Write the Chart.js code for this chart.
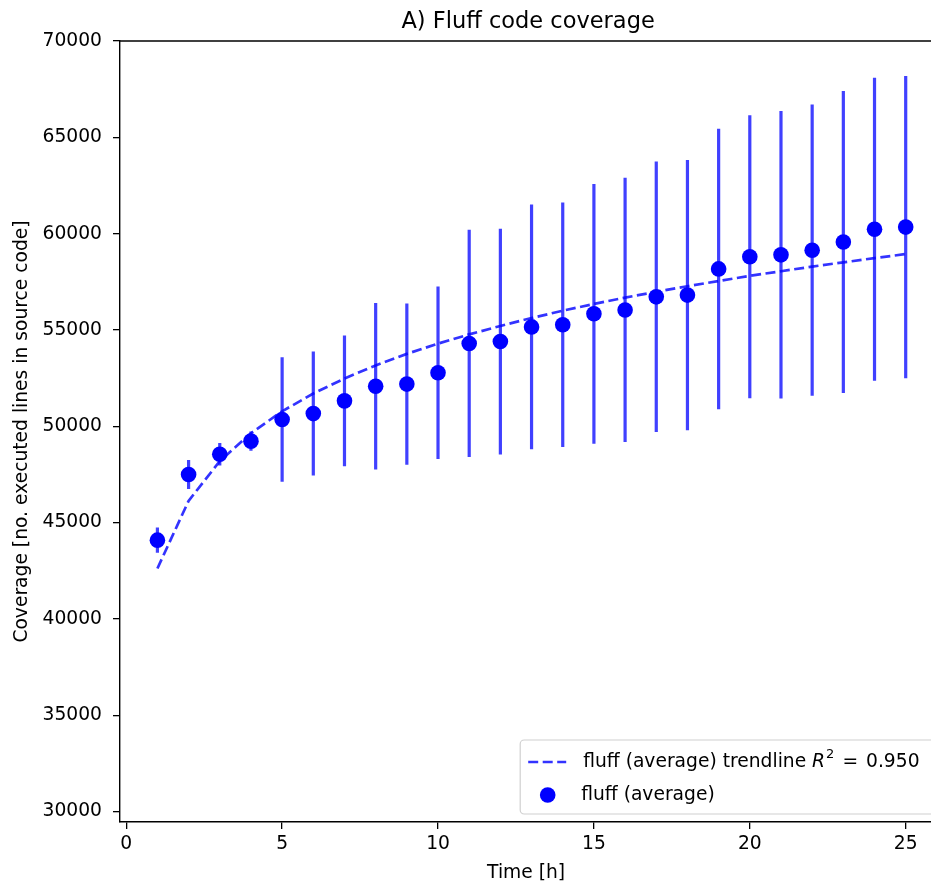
<!DOCTYPE html>
<html>
<head>
  <title>A) Fluff code coverage</title>
  <style>
    html, body {
      margin: 0;
      padding: 0;
      background: #fff;
      overflow: hidden;
      width: 931px;
      height: 886px;
    }
  </style>
</head>
<body>
  <!-- a little wider than the window: the reference crops off the right spine -->
  <canvas id="chart" width="940" height="886"></canvas>

  <script src="https://cdn.jsdelivr.net/npm/chart.js"></script>
  <script>
    // data
    const hours = [1, 2, 3, 4, 5, 6, 7, 8, 9, 10, 11, 12, 13, 14, 15, 16, 17, 18, 19, 20, 21, 22, 23, 24, 25];
    const avgCoverage = [44090, 47500, 48550, 49230, 50350, 50660, 51320, 52080, 52190, 52780,
                         54300, 54400, 55160, 55270, 55840, 56040, 56720, 56810, 58170, 58800,
                         58900, 59140, 59570, 60230, 60340];
    const errCoverage = [660, 750, 580, 500, 3230, 3220, 3390, 4320, 4190, 4480,
                         5900, 5860, 6350, 6350, 6740, 6860, 7020, 7010, 7280, 7350,
                         7460, 7560, 7840, 7860, 7840];
    const trendCoverage = [42620, 46130, 48190, 49640, 50780, 51700, 52480, 53160, 53760, 54290,
                           54770, 55210, 55620, 56000, 56350, 56680, 56980, 57270, 57540, 57810,
                           58050, 58290, 58510, 58730, 58940];
    const xTicks = [0, 5, 10, 15, 20, 25];
    const yTicks = [30000, 35000, 40000, 45000, 50000, 55000, 60000, 65000, 70000];

    const titleText = 'A) Fluff code coverage';
    const trendLabel = 'fluff (average) trendline';
    const r2Text = '0.950';
    const avgLabel = 'fluff (average)';

    const FONT = '"DejaVu Sans", sans-serif';
    const FS = 18.7;
    const BLUE = '#0000ff';
    const BAR_BLUE = 'rgba(0, 0, 255, 0.75)';
    const LINE_BLUE = 'rgba(0, 0, 255, 0.8)';

    // vertical error bars under the markers
    const errorBars = {
      id: 'errorBars',
      beforeDatasetsDraw(chart) {
        const { ctx, chartArea, scales } = chart;
        ctx.save();
        ctx.beginPath();
        ctx.rect(chartArea.left, chartArea.top, chartArea.right - chartArea.left, chartArea.bottom - chartArea.top);
        ctx.clip();
        ctx.strokeStyle = BAR_BLUE;
        ctx.lineWidth = 3.2;
        hours.forEach((h, i) => {
          const x = scales.x.getPixelForValue(h);
          ctx.beginPath();
          ctx.moveTo(x, scales.y.getPixelForValue(avgCoverage[i] + errCoverage[i]));
          ctx.lineTo(x, scales.y.getPixelForValue(avgCoverage[i] - errCoverage[i]));
          ctx.stroke();
        });
        ctx.restore();
      }
    };

    // title, top spine and matplotlib-like legend
    const decorations = {
      id: 'decorations',
      afterDraw(chart) {
        const { ctx, chartArea } = chart;
        ctx.save();

        ctx.strokeStyle = '#000';
        ctx.lineWidth = 1.4;
        ctx.beginPath();
        ctx.moveTo(chartArea.left, chartArea.top);
        ctx.lineTo(chartArea.right + 20, chartArea.top);
        ctx.stroke();

        ctx.fillStyle = '#000';
        ctx.font = '22.5px ' + FONT;
        ctx.textAlign = 'center';
        ctx.textBaseline = 'alphabetic';
        ctx.fillText(titleText, (chartArea.left + chartArea.right) / 2 + 2, 27.5);

        // legend box in lower right
        const bx = chartArea.right - 412;
        const by = chartArea.bottom - 82;
        const bw = 430;
        const bh = 74;
        ctx.fillStyle = 'rgba(255, 255, 255, 0.8)';
        ctx.strokeStyle = '#d0d0d0';
        ctx.lineWidth = 1.2;
        ctx.beginPath();
        ctx.roundRect(bx, by, bw, bh, 4);
        ctx.fill();
        ctx.stroke();

        const row1 = by + 22;
        const row2 = by + 55;

        ctx.strokeStyle = LINE_BLUE;
        ctx.lineWidth = 2.7;
        ctx.setLineDash([10, 4.5]);
        ctx.beginPath();
        ctx.moveTo(bx + 8, row1);
        ctx.lineTo(bx + 46, row1);
        ctx.stroke();
        ctx.setLineDash([]);

        ctx.fillStyle = BLUE;
        ctx.beginPath();
        ctx.arc(bx + 27.5, row2, 7.8, 0, Math.PI * 2);
        ctx.fill();

        ctx.fillStyle = '#000';
        ctx.textAlign = 'left';
        ctx.textBaseline = 'middle';
        ctx.font = FS + 'px ' + FONT;
        let tx = bx + 63;
        const t1 = trendLabel + ' ';
        ctx.fillText(t1, tx, row1);
        tx += ctx.measureText(t1).width;
        ctx.font = 'italic ' + FS + 'px ' + FONT;
        ctx.fillText('R', tx, row1);
        tx += ctx.measureText('R').width + 1;
        ctx.font = '13px ' + FONT;
        ctx.fillText('2', tx, row1 - 7);
        tx += ctx.measureText('2').width + 8;
        ctx.font = FS + 'px ' + FONT;
        ctx.fillText('=', tx, row1);
        tx += ctx.measureText('=').width + 8;
        ctx.fillText(r2Text, tx, row1);
        ctx.fillText(avgLabel, bx + 61, row2);

        ctx.restore();
      }
    };

    const chart = new Chart(document.getElementById('chart'), {
      type: 'scatter',
      data: {
        datasets: [
          {
            label: avgLabel,
            data: hours.map((h, i) => ({ x: h, y: avgCoverage[i] })),
            pointRadius: 7.8,
            pointHoverRadius: 7.8,
            pointBackgroundColor: BLUE,
            pointBorderWidth: 0
          },
          {
            type: 'line',
            label: trendLabel,
            data: hours.map((h, i) => ({ x: h, y: trendCoverage[i] })),
            borderColor: LINE_BLUE,
            borderWidth: 2.7,
            borderDash: [10, 4.5],
            pointRadius: 0,
            tension: 0,
            fill: false
          }
        ]
      },
      options: {
        responsive: false,
        animation: false,
        layout: { padding: { top: 41, left: 0, right: 0, bottom: 0 } },
        plugins: {
          legend: { display: false },
          tooltip: { enabled: false }
        },
        scales: {
          x: {
            type: 'linear',
            min: -0.2,
            max: 25.85,
            afterBuildTicks: axis => { axis.ticks = xTicks.map(v => ({ value: v })); },
            afterFit: scale => { scale.height = 64; },
            grid: { drawOnChartArea: false, drawTicks: true, tickLength: 7, color: '#000', lineWidth: 1.3 },
            border: { display: true, color: '#000', width: 1.4 },
            ticks: { color: '#000', padding: 4, font: { family: FONT, size: FS }, maxRotation: 0 },
            title: { display: true, text: 'Time [h]', color: '#000', font: { family: FONT, size: FS }, padding: { top: 0, bottom: 2 } }
          },
          y: {
            type: 'linear',
            min: 29460,
            max: 70000,
            afterBuildTicks: axis => { axis.ticks = yTicks.map(v => ({ value: v })); },
            afterFit: scale => { scale.width = 120; },
            grid: { drawOnChartArea: false, drawTicks: true, tickLength: 7, color: '#000', lineWidth: 1.3 },
            border: { display: true, color: '#000', width: 1.4 },
            ticks: { color: '#000', padding: 11, font: { family: FONT, size: FS }, callback: v => String(v) },
            title: { display: true, text: 'Coverage [no. executed lines in source code]', color: '#000', font: { family: FONT, size: FS }, padding: { top: 11, bottom: 0 } }
          }
        }
      },
      plugins: [errorBars, decorations]
    });
  </script>
</body>
</html>
